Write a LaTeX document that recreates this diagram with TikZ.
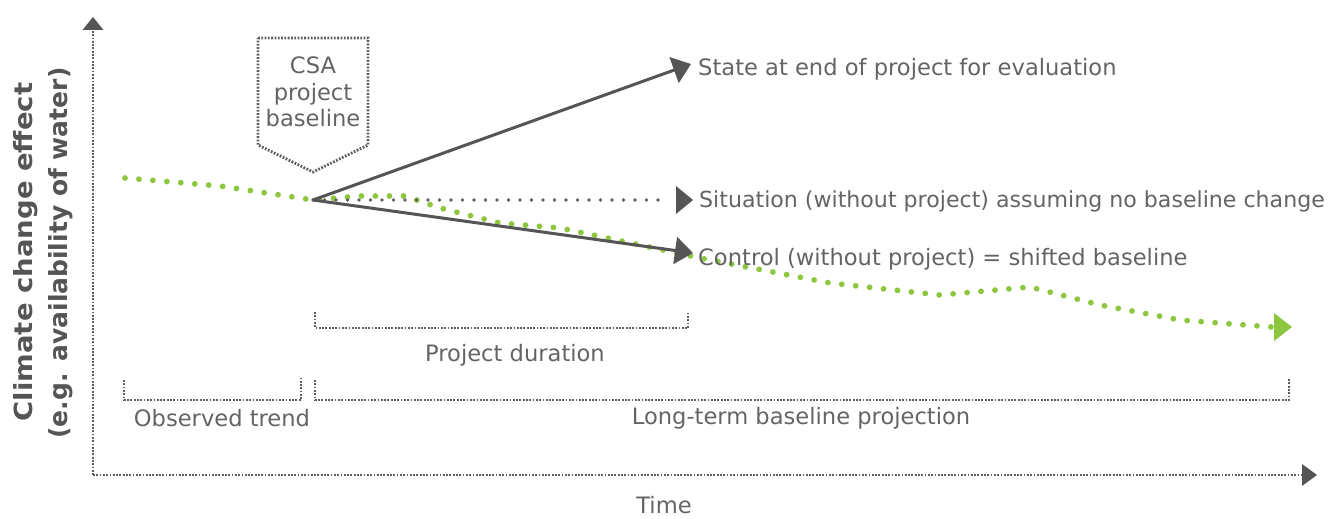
\documentclass[tikz,border=0pt]{standalone}
\usepackage{fontspec}
\setmainfont{DejaVu Sans}
\usetikzlibrary{arrows.meta}
\definecolor{dk}{RGB}{85,85,85}
\definecolor{tx}{RGB}{100,100,100}
\definecolor{dotg}{RGB}{95,95,95}
\definecolor{lime}{RGB}{141,198,63}
\tikzset{
  lbl/.style={text=tx, font=\fontsize{22.6}{26.5}\selectfont, inner sep=0pt},
  axis/.style={draw=dotg, line width=2.8pt, dash pattern=on 1.8pt off 1.5pt},
  brk/.style={draw=dotg, line width=2.6pt, dash pattern=on 1.8pt off 1.5pt},
  solidarr/.style={draw=dk, line width=3pt, -{Triangle[length=18pt,width=27pt]}},
  sparse/.style={draw=dotg, line width=3.6pt, line cap=round, dash pattern=on 0pt off 11.5pt},
  greendots/.style={draw=lime, line width=5.8pt, line cap=round, dash pattern=on 0pt off 14pt},
}
\begin{document}
\begin{tikzpicture}[x=1pt,y=-1pt]
\useasboundingbox (0,0) rectangle (1334,519);
% axes
\coordinate (orig) at (93,475);
\coordinate (ytip) at (93,17);
\coordinate (xtip) at (1317,475);
\draw[axis] (orig) -- (93,30);
\fill[dk] (ytip) -- (103.5,30) -- (82.5,30) -- cycle;
\draw[axis] (orig) -- (1302,475);
\fill[dk] (xtip) -- (1302,464) -- (1302,486) -- cycle;
\node[lbl] (time) at (664,505) {Time};
\node[text=dk, font=\bfseries\fontsize{25}{30}\selectfont, rotate=90, inner sep=0pt] (ylab1) at (26,252) {\scalebox{1.1}[1]{Climate change effect}};
\node[text=dk, font=\bfseries\fontsize{25}{30}\selectfont, rotate=90, inner sep=0pt] (ylab2) at (61,253) {(e.g. availability of water)};
% green baseline
\coordinate (gend) at (1272,327);
\draw[greendots] (125,178) -- (220,186) -- (313,200) -- (360,196) -- (405,196) -- (440,208) -- (500,223) -- (560,228) -- (640,245) -- (700,258) -- (830,283) -- (940,295) -- (1030,287) -- (1100,305) -- (1180,320) -- (gend);
\coordinate (gtip) at (1292,327);
\fill[lime] (gtip) -- (1274,313) -- (1274,341) -- cycle;
% CSA box
\draw[axis] (258,38) -- (368,38) -- (368,145) -- (313,172) -- (258,145) -- cycle;
\node[lbl, align=center] (csa) at (313,92) {CSA\\project\\baseline};
% arrows
\coordinate (O) at (313,200);
\coordinate (upTip) at (691,64);
\coordinate (ctlTip) at (693,253);
\coordinate (sitEnd) at (668,200);
\coordinate (sitTip) at (693,200);
\draw[sparse] (O) -- (sitEnd);
\fill[dk] (sitTip) -- (676,186) -- (676,214) -- cycle;
\draw[solidarr] (O) -- (upTip);
\draw[solidarr] (O) -- (ctlTip);
\node[lbl, anchor=west] (state) at (698,69) {State at end of project for evaluation};
\node[lbl, anchor=west, font=\fontsize{22.1}{26}\selectfont] (sit) at (699,201) {Situation (without project) assuming no baseline change};
\node[lbl, anchor=west] (ctl) at (698,259) {Control (without project) = shifted baseline};
% brackets
\draw[brk] (315,312) -- (315,328) -- (688,328) -- (688,312);
\node[lbl] (pd) at (515,355) {Project duration};
\draw[brk] (124,380) -- (124,400) -- (301,400) -- (301,378);
\node[lbl] (obs) at (222,418) {Observed trend};
\draw[brk] (315,380) -- (315,400) -- (1289,400) -- (1289,378);
\node[lbl] (lt) at (801,418) {Long-term baseline projection};
\end{tikzpicture}
\end{document}
